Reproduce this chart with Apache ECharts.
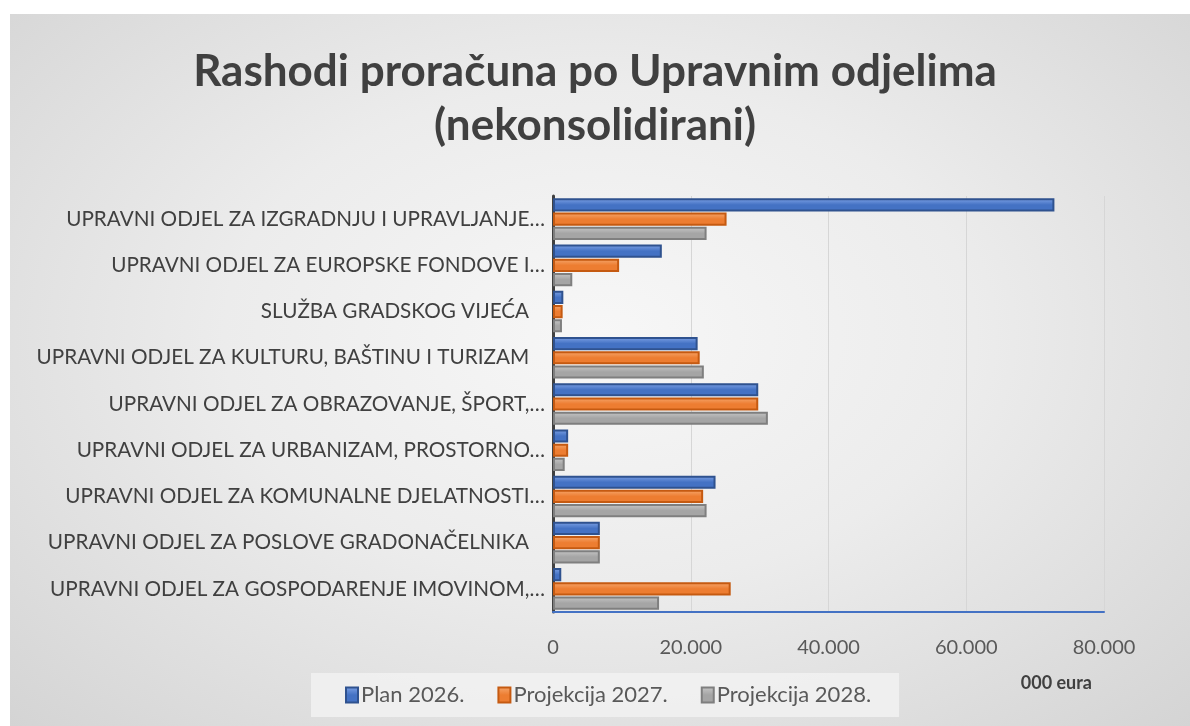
<!DOCTYPE html>
<html>
<head>
<meta charset="utf-8">
<script src="https://cdn.jsdelivr.net/npm/echarts@6/dist/echarts.min.js"></script>
<style>
  html, body { margin: 0; padding: 0; background: #fff; }
  #bg {
    position: absolute; left: 10px; top: 14px; width: 1180px; height: 712px;
    background: radial-gradient(ellipse at 50% 45%, #f7f7f7 0%, #ececec 45%, #d4d4d4 100%);
  }
  #chart { position: absolute; left: 0; top: 0; width: 1190px; height: 726px; }
</style>
</head>
<body>
<div id="bg"></div>
<div id="chart"></div>
<script>
  // kategorije odozgo prema dolje
  var categories = [
    'UPRAVNI ODJEL ZA IZGRADNJU I UPRAVLJANJE…',
    'UPRAVNI ODJEL ZA EUROPSKE FONDOVE I…',
    'SLUŽBA GRADSKOG VIJEĆA',
    'UPRAVNI ODJEL ZA KULTURU, BAŠTINU I TURIZAM',
    'UPRAVNI ODJEL ZA OBRAZOVANJE, ŠPORT,…',
    'UPRAVNI ODJEL ZA URBANIZAM, PROSTORNO…',
    'UPRAVNI ODJEL ZA KOMUNALNE DJELATNOSTI…',
    'UPRAVNI ODJEL ZA POSLOVE GRADONAČELNIKA',
    'UPRAVNI ODJEL ZA GOSPODARENJE IMOVINOM,…'
  ];
  var plan2026 = [72800, 15800, 1500, 21000, 29800, 2200, 23600, 6800, 1200];
  var proj2027 = [25200, 9600, 1400, 21300, 29800, 2200, 21800, 6800, 25800];
  var proj2028 = [22300, 2800, 1300, 21900, 31200, 1700, 22300, 6800, 15400];
  var xTicks = [0, 20000, 40000, 60000, 80000];

  var chart = echarts.init(document.getElementById('chart'));

  function fmt(v) {
    return v === 0 ? '0' : String(v).replace(/\B(?=(\d{3})+(?!\d))/g, '.');
  }

  function barStyle(light, base, border) {
    return {
      color: new echarts.graphic.LinearGradient(0, 0, 0, 1, [
        {offset: 0, color: light},
        {offset: 0.5, color: base},
        {offset: 1, color: base}
      ]),
      borderColor: border,
      borderWidth: 2
    };
  }

  chart.setOption({
    backgroundColor: 'transparent',
    title: {
      text: 'Rashodi proračuna po Upravnim odjelima\n(nekonsolidirani)',
      left: 'center',
      top: 40,
      textStyle: {
        fontFamily: 'Lato',
        fontSize: 44,
        fontWeight: 'bold',
        color: '#404040',
        lineHeight: 54
      }
    },
    legend: {
      bottom: 9,
      left: 311,
      backgroundColor: 'rgba(242,242,242,0.8)',
      padding: [11, 28, 11, 34],
      itemWidth: 12,
      itemHeight: 15,
      itemGap: 33,
      icon: 'rect',
      textStyle: {fontFamily: 'Lato', fontSize: 22, color: '#595959', padding: [0, 0, 0, -2]},
      data: ['Plan 2026.', 'Projekcija 2027.', 'Projekcija 2028.']
    },
    grid: {
      left: 553,
      right: 86,
      top: 196,
      bottom: 114,
      containLabel: false
    },
    xAxis: {
      type: 'value',
      min: 0,
      max: 80000,
      interval: 20000,
      axisLine: {show: true, lineStyle: {color: '#4472C4', width: 2}},
      axisTick: {show: false},
      splitLine: {show: true, lineStyle: {color: '#d6d6d6', width: 1}},
      axisLabel: {
        margin: 26,
        fontFamily: 'Lato',
        fontSize: 20,
        color: '#595959',
        formatter: function (v) { return xTicks.indexOf(v) >= 0 ? fmt(v) : ''; }
      },
      name: '000 eura',
      nameLocation: 'end',
      nameGap: 0,
      nameTextStyle: {
        fontFamily: 'Lato', fontSize: 18, fontWeight: 'bold', color: '#404040',
        align: 'right', verticalAlign: 'top', padding: [62, 12, 0, 0]
      }
    },
    yAxis: {
      type: 'category',
      inverse: true,
      data: categories,
      axisLine: {show: true, lineStyle: {color: '#404040', width: 3}},
      axisTick: {show: false},
      axisLabel: {
        margin: 8,
        fontFamily: 'Lato',
        fontSize: 20.7,
        color: '#404040',
        // nepokraćeni nazivi u izvorniku imaju razmak na kraju
        formatter: function (v) { return v.slice(-1) === '…' ? v : v + '   '; }
      }
    },
    series: [
      {
        name: 'Plan 2026.',
        type: 'bar',
        data: plan2026,
        barGap: '8%',
        barCategoryGap: '10%',
        itemStyle: barStyle('#7fa3e6', '#4472C4', '#2F528F')
      },
      {
        name: 'Projekcija 2027.',
        type: 'bar',
        data: proj2027,
        itemStyle: barStyle('#f6a86e', '#ED7D31', '#C55A11')
      },
      {
        name: 'Projekcija 2028.',
        type: 'bar',
        data: proj2028,
        itemStyle: barStyle('#c8c8c8', '#A5A5A5', '#7F7F7F')
      }
    ]
  });
</script>
</body>
</html>
